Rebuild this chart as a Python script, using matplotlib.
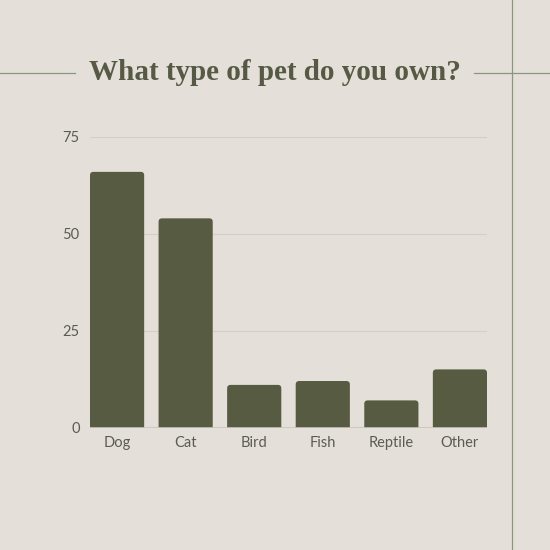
import matplotlib
matplotlib.use("Agg")
import matplotlib.pyplot as plt
from matplotlib.patches import FancyBboxPatch
from matplotlib.lines import Line2D

pets = ["Dog", "Cat", "Bird", "Fish", "Reptile", "Other"]
owners = [66, 54, 11, 12, 7, 15]
yticks = [0, 25, 50, 75]

bg = "#e4e0d9"
bar_col = "#575b41"
txt_col = "#5b5b50"
title_col = "#565a45"
deco_col = "#8a9680"

fig = plt.figure(figsize=(5.5, 5.5), dpi=100, facecolor=bg)
ax = fig.add_axes([90 / 550, 1 - 427.5 / 550, 397 / 550, 290.5 / 550])
ax.set_facecolor(bg)

bars = ax.bar(range(len(pets)), owners, width=0.79, color=bar_col, zorder=3)
# swap the plain bars for ones with slightly rounded tops
for b in bars:
    x, w, h = b.get_x(), b.get_width(), b.get_height()
    b.set_visible(False)
    p = FancyBboxPatch((x, -2), w, h + 2,
                       boxstyle="round,pad=0,rounding_size=0.05",
                       mutation_aspect=17.5, fc=bar_col, ec="none", zorder=3)
    ax.add_patch(p)

ax.set_xlim(-0.395, 5.395)
ax.set_ylim(0, 75)
ax.set_yticks(yticks)
ax.set_xticks(range(len(pets)))
ax.set_xticklabels(pets)
ax.grid(axis="y", color="#d3cfc6", lw=0.8, zorder=0)
ax.axhline(0, color="#c9c5bb", lw=1.2, zorder=4)
for s in ax.spines.values():
    s.set_visible(False)
ax.tick_params(length=0, colors=txt_col, labelsize=10.5)
ax.tick_params(axis="y", pad=7.5)
ax.tick_params(axis="x", pad=6, labelsize=10.5)
for lab in ax.get_xticklabels() + ax.get_yticklabels():
    lab.set_fontfamily("Lato")

fig.text(0.5, 1 - 72 / 550, "What type of pet do you own?", ha="center", va="center",
         fontsize=21, fontweight="bold", family="Liberation Serif", color=title_col)

# decorative frame lines
fig.add_artist(Line2D([0, 75 / 550], [1 - 72.5 / 550] * 2, color=deco_col, lw=0.9,
                      transform=fig.transFigure))
fig.add_artist(Line2D([474 / 550, 1], [1 - 72.5 / 550] * 2, color=deco_col, lw=0.9,
                      transform=fig.transFigure))
fig.add_artist(Line2D([512 / 550] * 2, [0, 1], color=deco_col, lw=0.9,
                      transform=fig.transFigure))

fig.savefig("out.png", dpi=100, facecolor=bg)
